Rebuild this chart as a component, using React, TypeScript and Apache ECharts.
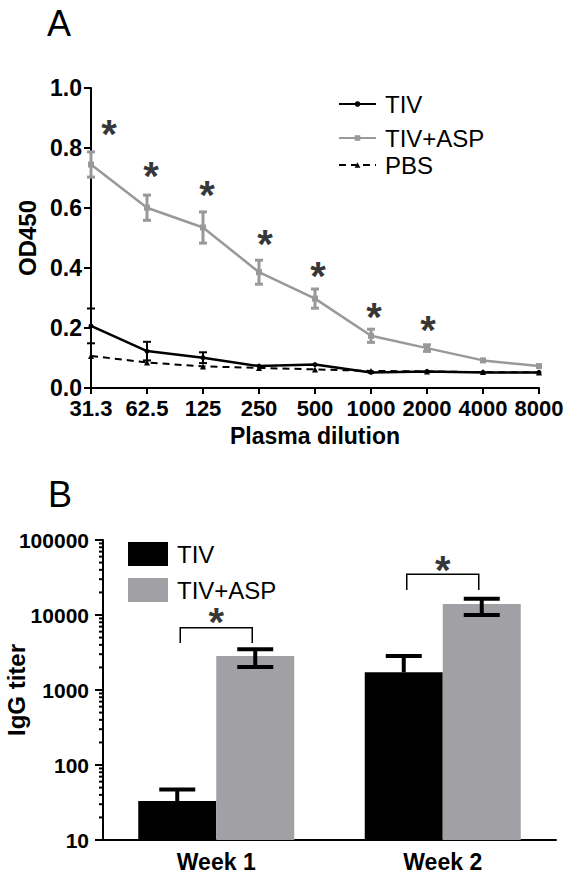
import React, { useEffect, useRef } from "react";
import * as echarts from "echarts";

// ---------- Panel A data ----------
const dilutions = ["31.3", "62.5", "125", "250", "500", "1000", "2000", "4000", "8000"];
const tivMean = [0.207, 0.123, 0.101, 0.073, 0.078, 0.052, 0.055, 0.052, 0.052];
const tivErr = [0.058, 0.031, 0.018, 0, 0, 0, 0, 0, 0];
const aspMean = [0.745, 0.601, 0.535, 0.386, 0.298, 0.174, 0.133, 0.092, 0.073];
const aspErr = [0.042, 0.042, 0.052, 0.04, 0.032, 0.022, 0.011, 0, 0];
const pbsMean = [0.107, 0.085, 0.072, 0.067, 0.062, 0.057, 0.055, 0.053, 0.052];
const starIndexA = [0, 1, 2, 3, 4, 5, 6];
const starValueA = [0.867, 0.727, 0.663, 0.5, 0.393, 0.257, 0.213];
const starShiftA = [18, 4, 4, 6, 3, 3, 1];
const yTicksA = [0, 0.2, 0.4, 0.6, 0.8, 1.0];

// ---------- Panel B data ----------
const weeks = ["Week 1", "Week 2"];
const tivTiter = [33, 1720];
const tivTiterUpper = [47, 2840];
const aspTiter = [2840, 14000];
const aspTiterUpper = [3500, 16500];
const aspTiterLower = [2020, 10000];
const bracketTop = [6760, 34900];
const bracketLegEnd = [4240, 21550];
const starValueB = [10630, 52500];
const decadeStarts = [10, 100, 1000, 10000];
const minorMultipliers = [2, 3, 4, 5, 6, 7, 8, 9];

const FONT = "Liberation Sans, Arial, Helvetica, sans-serif";
const GRAY_LINE = "#999999";
const GRAY_BAR = "#a1a1a5";
const BAR_W = 78;

function errorBarsA(color: string, lw: number, capHalf: number) {
  return (params: any, api: any) => {
    const i = api.value(0);
    const m = api.value(1);
    const e = api.value(2);
    if (!e) return { type: "group", children: [] };
    const top = api.coord([i, m + e]);
    const bot = api.coord([i, m - e]);
    const st = { stroke: color, lineWidth: lw };
    return {
      type: "group",
      children: [
        { type: "line", shape: { x1: top[0], y1: top[1], x2: bot[0], y2: bot[1] }, style: st },
        { type: "line", shape: { x1: top[0] - capHalf, y1: top[1], x2: top[0] + capHalf, y2: top[1] }, style: st },
        { type: "line", shape: { x1: bot[0] - capHalf, y1: bot[1], x2: bot[0] + capHalf, y2: bot[1] }, style: st },
      ],
    };
  };
}

function errorBarsB(shift: number, lowerCap: boolean) {
  return (params: any, api: any) => {
    const i = api.value(0);
    const up = api.coord([i, api.value(1)]);
    const lo = api.coord([i, api.value(2)]);
    const x = up[0] + shift;
    const st = { stroke: "#000", lineWidth: 4 };
    const children: any[] = [
      { type: "line", shape: { x1: x, y1: up[1], x2: x, y2: lo[1] }, style: st },
      { type: "line", shape: { x1: x - 18, y1: up[1], x2: x + 18, y2: up[1] }, style: st },
    ];
    if (lowerCap) {
      children.push({ type: "line", shape: { x1: x - 18, y1: lo[1], x2: x + 18, y2: lo[1] }, style: st });
    }
    return { type: "group", children };
  };
}

function bracketB(params: any, api: any) {
  const i = api.value(0);
  const top = api.coord([i, api.value(1)]);
  const leg = api.coord([i, api.value(2)]);
  const xl = top[0] - 36;
  const xr = top[0] + 36;
  return {
    type: "polyline",
    shape: { points: [[xl, leg[1]], [xl, top[1]], [xr, top[1]], [xr, leg[1]]] },
    style: { stroke: "#000", lineWidth: 1.5, fill: "none" },
  };
}

function minorTicksB(params: any, api: any) {
  const y = api.coord([0, api.value(1)])[1];
  const x0 = params.coordSys.x;
  return {
    type: "line",
    shape: { x1: x0 - 4, y1: y, x2: x0, y2: y },
    style: { stroke: "#000", lineWidth: 2 },
  };
}

export default function App() {
  const ref = useRef<HTMLDivElement>(null);

  useEffect(() => {
    if (!ref.current) return;
    const chart = echarts.init(ref.current, undefined, { renderer: "svg" });

    const minorValues: number[][] = [];
    decadeStarts.forEach((d) => minorMultipliers.forEach((m) => minorValues.push([0, d * m])));

    const axisLine = { lineStyle: { color: "#000", width: 2 } };
    const boldLabel = { color: "#000", fontWeight: "bold" as const, fontFamily: FONT };
    const starLabel = {
      show: true, position: "inside", formatter: "*", fontSize: 40, lineHeight: 20, fontWeight: "bold",
      color: "#000", fontFamily: FONT, textBorderWidth: 0,
    };
    const legendText = { fontSize: 24, color: "#000", fontFamily: FONT, padding: [0, 0, 0, 4] };

    const option: any = {
      animation: false,
      backgroundColor: "#fff",
      title: [
        { text: "A", left: 42, top: 0, textStyle: { fontSize: 36, fontWeight: "normal", color: "#000", fontFamily: FONT } },
        { text: "B", left: 43, top: 471, textStyle: { fontSize: 36, fontWeight: "normal", color: "#000", fontFamily: FONT } },
      ],
      legend: [
        { data: ["TIV"], left: 333, top: 87, itemWidth: 37, itemHeight: 7, selectedMode: false, textStyle: legendText },
        { data: ["TIV+ASP"], left: 333, top: 121, itemWidth: 37, itemHeight: 7, selectedMode: false, textStyle: legendText },
        { data: ["PBS"], left: 333, top: 148, itemWidth: 37, itemHeight: 7, selectedMode: false, textStyle: legendText },
        {
          data: [
            { name: "TIV (B)", icon: "rect" },
            { name: "TIV+ASP (B)", icon: "rect" },
          ],
          orient: "vertical", left: 123, top: 537, itemWidth: 40, itemHeight: 24, itemGap: 12,
          selectedMode: false,
          formatter: (n: string) => n.replace(" (B)", ""),
          textStyle: legendText,
        },
      ],
      grid: [
        { left: 91, top: 88, width: 448, height: 300, outerBoundsMode: "none", containLabel: false },
        { left: 103, top: 540, width: 453, height: 300, outerBoundsMode: "none", containLabel: false },
      ],
      xAxis: [
        {
          type: "category", gridIndex: 0, data: dilutions, boundaryGap: false,
          axisLine, axisTick: { length: 6, lineStyle: { color: "#000", width: 2 } },
          axisLabel: { ...boldLabel, fontSize: 22, margin: 9, interval: 0 },
          name: "Plasma dilution", nameLocation: "middle", nameGap: 36,
          nameTextStyle: { ...boldLabel, fontSize: 23 },
          splitLine: { show: false },
        },
        {
          type: "category", gridIndex: 1, data: weeks,
          axisLine, axisTick: { length: 6, alignWithLabel: true, lineStyle: { color: "#000", width: 2 } },
          axisLabel: { ...boldLabel, fontSize: 23, margin: 10 },
          splitLine: { show: false },
        },
      ],
      yAxis: [
        {
          type: "value", gridIndex: 0, min: 0, max: 1, interval: 0.2,
          axisLine: { show: true, ...axisLine }, axisTick: { show: true, length: 7, lineStyle: { color: "#000", width: 2 } },
          axisLabel: { ...boldLabel, fontSize: 23, margin: 9, formatter: (v: number) => (yTicksA.includes(+v.toFixed(1)) ? v.toFixed(1) : "") },
          splitLine: { show: false },
          name: "OD450", nameLocation: "middle", nameGap: 52, nameRotate: 90,
          nameTextStyle: { ...boldLabel, fontSize: 24 },
        },
        {
          type: "log", gridIndex: 1, logBase: 10, min: 10, max: 100000,
          axisLine: { show: true, ...axisLine }, axisTick: { show: true, length: 8, lineStyle: { color: "#000", width: 2 } },
          axisLabel: { ...boldLabel, fontSize: 21, margin: 14, formatter: (v: number) => String(Math.round(v)) },
          splitLine: { show: false },
          name: "IgG titer", nameLocation: "middle", nameGap: 75, nameRotate: 90, nameMoveOverlap: false,
          nameTextStyle: { ...boldLabel, fontSize: 24 },
        },
      ],
      series: [
        {
          name: "TIV", type: "line", xAxisIndex: 0, yAxisIndex: 0, data: tivMean,
          symbol: "circle", symbolSize: 5, showSymbol: true,
          lineStyle: { color: "#000", width: 2.5 }, itemStyle: { color: "#000" }, z: 3,
        },
        {
          name: "TIV+ASP", type: "line", xAxisIndex: 0, yAxisIndex: 0, data: aspMean,
          symbol: "rect", symbolSize: 6,
          lineStyle: { color: GRAY_LINE, width: 2.5 }, itemStyle: { color: GRAY_LINE }, z: 3,
        },
        {
          name: "PBS", type: "line", xAxisIndex: 0, yAxisIndex: 0, data: pbsMean,
          symbol: "triangle", symbolSize: 6,
          lineStyle: { color: "#000", width: 2, type: [7, 5] }, itemStyle: { color: "#000" }, z: 2,
        },
        {
          type: "custom", xAxisIndex: 0, yAxisIndex: 0, z: 4,
          data: aspMean.map((m, i) => [i, m, aspErr[i]]),
          renderItem: errorBarsA(GRAY_LINE, 3, 4),
          encode: { x: 0, y: 1 },
        },
        {
          type: "custom", xAxisIndex: 0, yAxisIndex: 0, z: 4,
          data: tivMean.map((m, i) => [i, m, tivErr[i]]),
          renderItem: errorBarsA("#000", 2, 4),
          encode: { x: 0, y: 1 },
        },
        {
          type: "scatter", xAxisIndex: 0, yAxisIndex: 0, symbolSize: 1,
          itemStyle: { color: "rgba(0,0,0,0)" },
          data: starIndexA.map((i, k) => ({
            value: [i, starValueA[k]],
            label: { offset: [starShiftA[k], 6] },
          })),
          label: starLabel,
          z: 5,
        },
        // Panel B
        {
          name: "TIV (B)", type: "bar", xAxisIndex: 1, yAxisIndex: 1, data: tivTiter,
          barWidth: BAR_W, barGap: "0%", itemStyle: { color: "#000" },
        },
        {
          name: "TIV+ASP (B)", type: "bar", xAxisIndex: 1, yAxisIndex: 1, data: aspTiter,
          barWidth: BAR_W, barGap: "0%", itemStyle: { color: GRAY_BAR },
        },
        {
          type: "custom", xAxisIndex: 1, yAxisIndex: 1, z: 4,
          data: tivTiter.map((v, i) => [i, tivTiterUpper[i], v]),
          renderItem: errorBarsB(-BAR_W / 2, false),
          encode: { x: 0, y: 1 },
        },
        {
          type: "custom", xAxisIndex: 1, yAxisIndex: 1, z: 4,
          data: aspTiter.map((v, i) => [i, aspTiterUpper[i], aspTiterLower[i]]),
          renderItem: errorBarsB(BAR_W / 2, true),
          encode: { x: 0, y: 1 },
        },
        {
          type: "custom", xAxisIndex: 1, yAxisIndex: 1, z: 4,
          data: bracketTop.map((v, i) => [i, v, bracketLegEnd[i]]),
          renderItem: bracketB,
          encode: { x: 0, y: 1 },
        },
        {
          type: "custom", xAxisIndex: 1, yAxisIndex: 1, z: 4, clip: false,
          data: minorValues,
          renderItem: minorTicksB,
          encode: { x: 0, y: 1 },
        },
        {
          type: "scatter", xAxisIndex: 1, yAxisIndex: 1, symbolSize: 1,
          itemStyle: { color: "rgba(0,0,0,0)" },
          data: starValueB.map((v, i) => ({ value: [i, v], label: { offset: [0, 9] } })),
          label: starLabel,
          z: 5,
        },
      ],
    };

    chart.setOption(option);
    return () => chart.dispose();
  }, []);

  return (
    <div
      ref={ref}
      style={{ position: "fixed", left: 0, top: 0, width: 569, height: 877, background: "#fff" }}
    />
  );
}
